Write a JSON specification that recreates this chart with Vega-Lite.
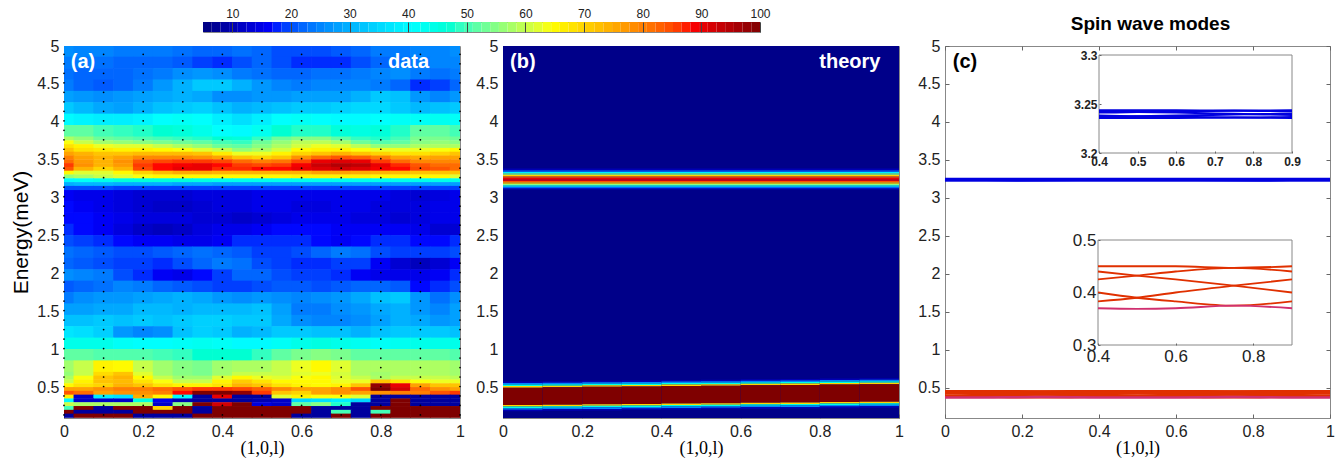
{"$schema":"https://vega.github.io/schema/vega-lite/v6.json","background":"white","padding":{"left":10,"top":6,"right":0,"bottom":0},"config":{"view":{"stroke":"#888"},"font":"Liberation Sans","axis":{"labelFont":"Liberation Sans","labelFontSize":16,"labelColor":"#222","labelFlush":false,"labelOverlap":false,"domain":false,"tickColor":"#666","tickSize":-4,"labelPadding":9,"grid":false,"titleFontWeight":"normal"}},
"datasets":{
"blue":[{"l":0,"e":3.2436,"m":"b1"},{"l":0.1,"e":3.2436,"m":"b1"},{"l":0.25,"e":3.2433,"m":"b1"},{"l":0.4,"e":3.2436,"m":"b1"},{"l":0.5,"e":3.2437,"m":"b1"},{"l":0.6,"e":3.2436,"m":"b1"},{"l":0.75,"e":3.2433,"m":"b1"},{"l":0.9,"e":3.2436,"m":"b1"},{"l":1,"e":3.2436,"m":"b1"},
{"l":0,"e":3.2418,"m":"b2"},{"l":0.1,"e":3.2425,"m":"b2"},{"l":0.25,"e":3.2431,"m":"b2"},{"l":0.4,"e":3.2425,"m":"b2"},{"l":0.5,"e":3.2418,"m":"b2"},{"l":0.6,"e":3.2412,"m":"b2"},{"l":0.75,"e":3.24,"m":"b2"},{"l":0.9,"e":3.2388,"m":"b2"},{"l":1,"e":3.2378,"m":"b2"},
{"l":0,"e":3.2378,"m":"b3"},{"l":0.1,"e":3.2388,"m":"b3"},{"l":0.25,"e":3.24,"m":"b3"},{"l":0.4,"e":3.2412,"m":"b3"},{"l":0.5,"e":3.2418,"m":"b3"},{"l":0.6,"e":3.2425,"m":"b3"},{"l":0.75,"e":3.2431,"m":"b3"},{"l":0.9,"e":3.2425,"m":"b3"},{"l":1,"e":3.2418,"m":"b3"},
{"l":0,"e":3.241,"m":"b4"},{"l":0.1,"e":3.2402,"m":"b4"},{"l":0.25,"e":3.2392,"m":"b4"},{"l":0.4,"e":3.2382,"m":"b4"},{"l":0.5,"e":3.2375,"m":"b4"},{"l":0.6,"e":3.237,"m":"b4"},{"l":0.75,"e":3.2362,"m":"b4"},{"l":0.9,"e":3.2368,"m":"b4"},{"l":1,"e":3.2375,"m":"b4"},
{"l":0,"e":3.2375,"m":"b5"},{"l":0.1,"e":3.2368,"m":"b5"},{"l":0.25,"e":3.2362,"m":"b5"},{"l":0.4,"e":3.237,"m":"b5"},{"l":0.5,"e":3.2375,"m":"b5"},{"l":0.6,"e":3.2382,"m":"b5"},{"l":0.75,"e":3.2392,"m":"b5"},{"l":0.9,"e":3.2402,"m":"b5"},{"l":1,"e":3.241,"m":"b5"},
{"l":0,"e":3.2358,"m":"b6"},{"l":0.1,"e":3.2358,"m":"b6"},{"l":0.25,"e":3.2362,"m":"b6"},{"l":0.4,"e":3.2358,"m":"b6"},{"l":0.5,"e":3.2357,"m":"b6"},{"l":0.6,"e":3.2358,"m":"b6"},{"l":0.75,"e":3.2362,"m":"b6"},{"l":0.9,"e":3.2358,"m":"b6"},{"l":1,"e":3.2358,"m":"b6"}],
"red":[{"l":0,"e":0.45,"m":"r1"},{"l":0.1,"e":0.45,"m":"r1"},{"l":0.25,"e":0.447,"m":"r1"},{"l":0.4,"e":0.45,"m":"r1"},{"l":0.5,"e":0.45,"m":"r1"},{"l":0.6,"e":0.45,"m":"r1"},{"l":0.75,"e":0.447,"m":"r1"},{"l":0.9,"e":0.45,"m":"r1"},{"l":1,"e":0.45,"m":"r1"},
{"l":0,"e":0.432,"m":"r2"},{"l":0.1,"e":0.44,"m":"r2"},{"l":0.25,"e":0.447,"m":"r2"},{"l":0.4,"e":0.44,"m":"r2"},{"l":0.5,"e":0.432,"m":"r2"},{"l":0.6,"e":0.425,"m":"r2"},{"l":0.75,"e":0.413,"m":"r2"},{"l":0.9,"e":0.4,"m":"r2"},{"l":1,"e":0.39,"m":"r2"},
{"l":0,"e":0.39,"m":"r3"},{"l":0.1,"e":0.4,"m":"r3"},{"l":0.25,"e":0.413,"m":"r3"},{"l":0.4,"e":0.425,"m":"r3"},{"l":0.5,"e":0.432,"m":"r3"},{"l":0.6,"e":0.44,"m":"r3"},{"l":0.75,"e":0.447,"m":"r3"},{"l":0.9,"e":0.44,"m":"r3"},{"l":1,"e":0.432,"m":"r3"},
{"l":0,"e":0.432,"m":"r4"},{"l":0.1,"e":0.425,"m":"r4"},{"l":0.25,"e":0.413,"m":"r4"},{"l":0.4,"e":0.4,"m":"r4"},{"l":0.5,"e":0.39,"m":"r4"},{"l":0.6,"e":0.383,"m":"r4"},{"l":0.75,"e":0.375,"m":"r4"},{"l":0.9,"e":0.383,"m":"r4"},{"l":1,"e":0.39,"m":"r4"},
{"l":0,"e":0.39,"m":"r5"},{"l":0.1,"e":0.383,"m":"r5"},{"l":0.25,"e":0.375,"m":"r5"},{"l":0.4,"e":0.383,"m":"r5"},{"l":0.5,"e":0.39,"m":"r5"},{"l":0.6,"e":0.4,"m":"r5"},{"l":0.75,"e":0.413,"m":"r5"},{"l":0.9,"e":0.425,"m":"r5"},{"l":1,"e":0.432,"m":"r5"}],
"low":[{"l":0,"e":0.369},{"l":0.1,"e":0.37},{"l":0.25,"e":0.375},{"l":0.4,"e":0.37},{"l":0.5,"e":0.369},{"l":0.6,"e":0.37},{"l":0.75,"e":0.375},{"l":0.9,"e":0.37},{"l":1,"e":0.369}],
"bar":[{"a":5,"b":6.48,"v":5.7},{"a":6.48,"b":7.97,"v":7.2},{"a":7.97,"b":9.45,"v":8.7},{"a":9.45,"b":10.94,"v":10.2},{"a":10.94,"b":12.42,"v":11.7},{"a":12.42,"b":13.91,"v":13.2},{"a":13.91,"b":15.39,"v":14.6},{"a":15.39,"b":16.88,"v":16.1},{"a":16.88,"b":18.36,"v":17.6},{"a":18.36,"b":19.84,"v":19.1},{"a":19.84,"b":21.33,"v":20.6},{"a":21.33,"b":22.81,"v":22.1},{"a":22.81,"b":24.3,"v":23.6},{"a":24.3,"b":25.78,"v":25},{"a":25.78,"b":27.27,"v":26.5},{"a":27.27,"b":28.75,"v":28},{"a":28.75,"b":30.23,"v":29.5},{"a":30.23,"b":31.72,"v":31},{"a":31.72,"b":33.2,"v":32.5},{"a":33.2,"b":34.69,"v":33.9},{"a":34.69,"b":36.17,"v":35.4},{"a":36.17,"b":37.66,"v":36.9},{"a":37.66,"b":39.14,"v":38.4},{"a":39.14,"b":40.63,"v":39.9},{"a":40.63,"b":42.11,"v":41.4},{"a":42.11,"b":43.59,"v":42.9},{"a":43.59,"b":45.08,"v":44.3},{"a":45.08,"b":46.56,"v":45.8},{"a":46.56,"b":48.05,"v":47.3},{"a":48.05,"b":49.53,"v":48.8},{"a":49.53,"b":51.02,"v":50.3},{"a":51.02,"b":52.5,"v":51.8},{"a":52.5,"b":53.98,"v":53.2},{"a":53.98,"b":55.47,"v":54.7},{"a":55.47,"b":56.95,"v":56.2},{"a":56.95,"b":58.44,"v":57.7},{"a":58.44,"b":59.92,"v":59.2},{"a":59.92,"b":61.41,"v":60.7},{"a":61.41,"b":62.89,"v":62.1},{"a":62.89,"b":64.38,"v":63.6},{"a":64.38,"b":65.86,"v":65.1},{"a":65.86,"b":67.34,"v":66.6},{"a":67.34,"b":68.83,"v":68.1},{"a":68.83,"b":70.31,"v":69.6},{"a":70.31,"b":71.8,"v":71},{"a":71.8,"b":73.28,"v":72.5},{"a":73.28,"b":74.77,"v":74},{"a":74.77,"b":76.25,"v":75.5},{"a":76.25,"b":77.73,"v":77},{"a":77.73,"b":79.22,"v":78.5},{"a":79.22,"b":80.7,"v":80},{"a":80.7,"b":82.19,"v":81.4},{"a":82.19,"b":83.67,"v":82.9},{"a":83.67,"b":85.16,"v":84.4},{"a":85.16,"b":86.64,"v":85.9},{"a":86.64,"b":88.13,"v":87.4},{"a":88.13,"b":89.61,"v":88.9},{"a":89.61,"b":91.09,"v":90.3},{"a":91.09,"b":92.58,"v":91.8},{"a":92.58,"b":94.06,"v":93.3},{"a":94.06,"b":95.55,"v":94.8},{"a":95.55,"b":97.03,"v":96.3},{"a":97.03,"b":98.52,"v":97.8},{"a":98.52,"b":100,"v":99.3}],
"theory":[{"l":0,"r":1,"e":0.1,"f":5,"v":6},
{"l":0,"r":1,"e":3.105,"f":3.125,"v":10},{"l":0,"r":1,"e":3.125,"f":3.145,"v":22},{"l":0,"r":1,"e":3.145,"f":3.165,"v":38},{"l":0,"r":1,"e":3.165,"f":3.185,"v":55},{"l":0,"r":1,"e":3.185,"f":3.205,"v":70},{"l":0,"r":1,"e":3.205,"f":3.225,"v":84},{"l":0,"r":1,"e":3.225,"f":3.245,"v":90},{"l":0,"r":1,"e":3.245,"f":3.265,"v":90},{"l":0,"r":1,"e":3.265,"f":3.285,"v":84},{"l":0,"r":1,"e":3.285,"f":3.305,"v":70},{"l":0,"r":1,"e":3.305,"f":3.325,"v":55},{"l":0,"r":1,"e":3.325,"f":3.345,"v":38},{"l":0,"r":1,"e":3.345,"f":3.365,"v":22},{"l":0,"r":1,"e":3.365,"f":3.385,"v":10},
{"l":0,"r":0.1,"e":0.56,"f":0.58,"v":10},{"l":0,"r":0.1,"e":0.54,"f":0.56,"v":25},{"l":0,"r":0.1,"e":0.52,"f":0.54,"v":45},{"l":0,"r":0.1,"e":0.5,"f":0.52,"v":70},{"l":0,"r":0.1,"e":0.27,"f":0.5,"v":100},{"l":0,"r":0.1,"e":0.25,"f":0.27,"v":70},{"l":0,"r":0.1,"e":0.23,"f":0.25,"v":45},{"l":0,"r":0.1,"e":0.21,"f":0.23,"v":25},{"l":0,"r":0.1,"e":0.19,"f":0.21,"v":10},
{"l":0.1,"r":0.2,"e":0.565,"f":0.585,"v":10},{"l":0.1,"r":0.2,"e":0.545,"f":0.565,"v":25},{"l":0.1,"r":0.2,"e":0.525,"f":0.545,"v":45},{"l":0.1,"r":0.2,"e":0.505,"f":0.525,"v":70},{"l":0.1,"r":0.2,"e":0.275,"f":0.505,"v":100},{"l":0.1,"r":0.2,"e":0.255,"f":0.275,"v":70},{"l":0.1,"r":0.2,"e":0.235,"f":0.255,"v":45},{"l":0.1,"r":0.2,"e":0.215,"f":0.235,"v":25},{"l":0.1,"r":0.2,"e":0.195,"f":0.215,"v":10},
{"l":0.2,"r":0.3,"e":0.57,"f":0.59,"v":10},{"l":0.2,"r":0.3,"e":0.55,"f":0.57,"v":25},{"l":0.2,"r":0.3,"e":0.53,"f":0.55,"v":45},{"l":0.2,"r":0.3,"e":0.51,"f":0.53,"v":70},{"l":0.2,"r":0.3,"e":0.28,"f":0.51,"v":100},{"l":0.2,"r":0.3,"e":0.26,"f":0.28,"v":70},{"l":0.2,"r":0.3,"e":0.24,"f":0.26,"v":45},{"l":0.2,"r":0.3,"e":0.22,"f":0.24,"v":25},{"l":0.2,"r":0.3,"e":0.2,"f":0.22,"v":10},
{"l":0.3,"r":0.4,"e":0.575,"f":0.595,"v":10},{"l":0.3,"r":0.4,"e":0.555,"f":0.575,"v":25},{"l":0.3,"r":0.4,"e":0.535,"f":0.555,"v":45},{"l":0.3,"r":0.4,"e":0.515,"f":0.535,"v":70},{"l":0.3,"r":0.4,"e":0.285,"f":0.515,"v":100},{"l":0.3,"r":0.4,"e":0.265,"f":0.285,"v":70},{"l":0.3,"r":0.4,"e":0.245,"f":0.265,"v":45},{"l":0.3,"r":0.4,"e":0.225,"f":0.245,"v":25},{"l":0.3,"r":0.4,"e":0.205,"f":0.225,"v":10},
{"l":0.4,"r":0.5,"e":0.58,"f":0.6,"v":10},{"l":0.4,"r":0.5,"e":0.56,"f":0.58,"v":25},{"l":0.4,"r":0.5,"e":0.54,"f":0.56,"v":45},{"l":0.4,"r":0.5,"e":0.52,"f":0.54,"v":70},{"l":0.4,"r":0.5,"e":0.29,"f":0.52,"v":100},{"l":0.4,"r":0.5,"e":0.27,"f":0.29,"v":70},{"l":0.4,"r":0.5,"e":0.25,"f":0.27,"v":45},{"l":0.4,"r":0.5,"e":0.23,"f":0.25,"v":25},{"l":0.4,"r":0.5,"e":0.21,"f":0.23,"v":10},
{"l":0.5,"r":0.6,"e":0.585,"f":0.605,"v":10},{"l":0.5,"r":0.6,"e":0.565,"f":0.585,"v":25},{"l":0.5,"r":0.6,"e":0.545,"f":0.565,"v":45},{"l":0.5,"r":0.6,"e":0.525,"f":0.545,"v":70},{"l":0.5,"r":0.6,"e":0.295,"f":0.525,"v":100},{"l":0.5,"r":0.6,"e":0.275,"f":0.295,"v":70},{"l":0.5,"r":0.6,"e":0.255,"f":0.275,"v":45},{"l":0.5,"r":0.6,"e":0.235,"f":0.255,"v":25},{"l":0.5,"r":0.6,"e":0.215,"f":0.235,"v":10},
{"l":0.6,"r":0.7,"e":0.59,"f":0.61,"v":10},{"l":0.6,"r":0.7,"e":0.57,"f":0.59,"v":25},{"l":0.6,"r":0.7,"e":0.55,"f":0.57,"v":45},{"l":0.6,"r":0.7,"e":0.53,"f":0.55,"v":70},{"l":0.6,"r":0.7,"e":0.3,"f":0.53,"v":100},{"l":0.6,"r":0.7,"e":0.28,"f":0.3,"v":70},{"l":0.6,"r":0.7,"e":0.26,"f":0.28,"v":45},{"l":0.6,"r":0.7,"e":0.24,"f":0.26,"v":25},{"l":0.6,"r":0.7,"e":0.22,"f":0.24,"v":10},
{"l":0.7,"r":0.8,"e":0.595,"f":0.615,"v":10},{"l":0.7,"r":0.8,"e":0.575,"f":0.595,"v":25},{"l":0.7,"r":0.8,"e":0.555,"f":0.575,"v":45},{"l":0.7,"r":0.8,"e":0.535,"f":0.555,"v":70},{"l":0.7,"r":0.8,"e":0.305,"f":0.535,"v":100},{"l":0.7,"r":0.8,"e":0.285,"f":0.305,"v":70},{"l":0.7,"r":0.8,"e":0.265,"f":0.285,"v":45},{"l":0.7,"r":0.8,"e":0.245,"f":0.265,"v":25},{"l":0.7,"r":0.8,"e":0.225,"f":0.245,"v":10},
{"l":0.8,"r":0.9,"e":0.6,"f":0.62,"v":10},{"l":0.8,"r":0.9,"e":0.58,"f":0.6,"v":25},{"l":0.8,"r":0.9,"e":0.56,"f":0.58,"v":45},{"l":0.8,"r":0.9,"e":0.54,"f":0.56,"v":70},{"l":0.8,"r":0.9,"e":0.31,"f":0.54,"v":100},{"l":0.8,"r":0.9,"e":0.29,"f":0.31,"v":70},{"l":0.8,"r":0.9,"e":0.27,"f":0.29,"v":45},{"l":0.8,"r":0.9,"e":0.25,"f":0.27,"v":25},{"l":0.8,"r":0.9,"e":0.23,"f":0.25,"v":10},
{"l":0.9,"r":1,"e":0.605,"f":0.625,"v":10},{"l":0.9,"r":1,"e":0.585,"f":0.605,"v":25},{"l":0.9,"r":1,"e":0.565,"f":0.585,"v":45},{"l":0.9,"r":1,"e":0.545,"f":0.565,"v":70},{"l":0.9,"r":1,"e":0.315,"f":0.545,"v":100},{"l":0.9,"r":1,"e":0.295,"f":0.315,"v":70},{"l":0.9,"r":1,"e":0.275,"f":0.295,"v":45},{"l":0.9,"r":1,"e":0.255,"f":0.275,"v":25},{"l":0.9,"r":1,"e":0.235,"f":0.255,"v":10}],
"coarse":[
{"l":0,"e":4.93,"v":26},{"l":0.05,"e":4.93,"v":25},{"l":0.1,"e":4.93,"v":25},{"l":0.15,"e":4.93,"v":24},{"l":0.2,"e":4.93,"v":24},{"l":0.25,"e":4.93,"v":24},{"l":0.3,"e":4.93,"v":23},{"l":0.35,"e":4.93,"v":22},{"l":0.4,"e":4.93,"v":22},{"l":0.45,"e":4.93,"v":23},{"l":0.5,"e":4.93,"v":22},{"l":0.55,"e":4.93,"v":20},{"l":0.6,"e":4.93,"v":20},{"l":0.65,"e":4.93,"v":20},{"l":0.7,"e":4.93,"v":21},{"l":0.75,"e":4.93,"v":22},{"l":0.8,"e":4.93,"v":24},{"l":0.85,"e":4.93,"v":24},{"l":0.9,"e":4.93,"v":25},{"l":0.95,"e":4.93,"v":25},{"l":1,"e":4.93,"v":26},
{"l":0,"e":4.78,"v":24},{"l":0.05,"e":4.78,"v":24},{"l":0.1,"e":4.78,"v":23},{"l":0.15,"e":4.78,"v":22},{"l":0.2,"e":4.78,"v":22},{"l":0.25,"e":4.78,"v":22},{"l":0.3,"e":4.78,"v":21},{"l":0.35,"e":4.78,"v":19},{"l":0.4,"e":4.78,"v":18},{"l":0.45,"e":4.78,"v":20},{"l":0.5,"e":4.78,"v":22},{"l":0.55,"e":4.78,"v":20},{"l":0.6,"e":4.78,"v":18},{"l":0.65,"e":4.78,"v":18},{"l":0.7,"e":4.78,"v":18},{"l":0.75,"e":4.78,"v":20},{"l":0.8,"e":4.78,"v":22},{"l":0.85,"e":4.78,"v":23},{"l":0.9,"e":4.78,"v":24},{"l":0.95,"e":4.78,"v":25},{"l":1,"e":4.78,"v":25},
{"l":0,"e":4.63,"v":23},{"l":0.05,"e":4.63,"v":22},{"l":0.1,"e":4.63,"v":22},{"l":0.15,"e":4.63,"v":22},{"l":0.2,"e":4.63,"v":23},{"l":0.25,"e":4.63,"v":24},{"l":0.3,"e":4.63,"v":26},{"l":0.35,"e":4.63,"v":27},{"l":0.4,"e":4.63,"v":26},{"l":0.45,"e":4.63,"v":24},{"l":0.5,"e":4.63,"v":23},{"l":0.55,"e":4.63,"v":22},{"l":0.6,"e":4.63,"v":22},{"l":0.65,"e":4.63,"v":23},{"l":0.7,"e":4.63,"v":23},{"l":0.75,"e":4.63,"v":24},{"l":0.8,"e":4.63,"v":25},{"l":0.85,"e":4.63,"v":26},{"l":0.9,"e":4.63,"v":24},{"l":0.95,"e":4.63,"v":23},{"l":1,"e":4.63,"v":24},
{"l":0,"e":4.48,"v":24},{"l":0.05,"e":4.48,"v":22},{"l":0.1,"e":4.48,"v":21},{"l":0.15,"e":4.48,"v":22},{"l":0.2,"e":4.48,"v":24},{"l":0.25,"e":4.48,"v":27},{"l":0.3,"e":4.48,"v":30},{"l":0.35,"e":4.48,"v":33},{"l":0.4,"e":4.48,"v":33},{"l":0.45,"e":4.48,"v":30},{"l":0.5,"e":4.48,"v":27},{"l":0.55,"e":4.48,"v":25},{"l":0.6,"e":4.48,"v":24},{"l":0.65,"e":4.48,"v":25},{"l":0.7,"e":4.48,"v":25},{"l":0.75,"e":4.48,"v":25},{"l":0.8,"e":4.48,"v":24},{"l":0.85,"e":4.48,"v":22},{"l":0.9,"e":4.48,"v":18},{"l":0.95,"e":4.48,"v":19},{"l":1,"e":4.48,"v":22},
{"l":0,"e":4.33,"v":28},{"l":0.05,"e":4.33,"v":27},{"l":0.1,"e":4.33,"v":26},{"l":0.15,"e":4.33,"v":27},{"l":0.2,"e":4.33,"v":28},{"l":0.25,"e":4.33,"v":29},{"l":0.3,"e":4.33,"v":30},{"l":0.35,"e":4.33,"v":29},{"l":0.4,"e":4.33,"v":26},{"l":0.45,"e":4.33,"v":26},{"l":0.5,"e":4.33,"v":27},{"l":0.55,"e":4.33,"v":27},{"l":0.6,"e":4.33,"v":28},{"l":0.65,"e":4.33,"v":28},{"l":0.7,"e":4.33,"v":28},{"l":0.75,"e":4.33,"v":30},{"l":0.8,"e":4.33,"v":33},{"l":0.85,"e":4.33,"v":32},{"l":0.9,"e":4.33,"v":27},{"l":0.95,"e":4.33,"v":25},{"l":1,"e":4.33,"v":27},
{"l":0,"e":4.18,"v":33},{"l":0.05,"e":4.18,"v":31},{"l":0.1,"e":4.18,"v":29},{"l":0.15,"e":4.18,"v":28},{"l":0.2,"e":4.18,"v":30},{"l":0.25,"e":4.18,"v":32},{"l":0.3,"e":4.18,"v":33},{"l":0.35,"e":4.18,"v":34},{"l":0.4,"e":4.18,"v":32},{"l":0.45,"e":4.18,"v":30},{"l":0.5,"e":4.18,"v":31},{"l":0.55,"e":4.18,"v":32},{"l":0.6,"e":4.18,"v":33},{"l":0.65,"e":4.18,"v":33},{"l":0.7,"e":4.18,"v":34},{"l":0.75,"e":4.18,"v":35},{"l":0.8,"e":4.18,"v":35},{"l":0.85,"e":4.18,"v":33},{"l":0.9,"e":4.18,"v":31},{"l":0.95,"e":4.18,"v":32},{"l":1,"e":4.18,"v":33},
{"l":0,"e":4.03,"v":40},{"l":0.05,"e":4.03,"v":39},{"l":0.1,"e":4.03,"v":38},{"l":0.15,"e":4.03,"v":38},{"l":0.2,"e":4.03,"v":39},{"l":0.25,"e":4.03,"v":41},{"l":0.3,"e":4.03,"v":42},{"l":0.35,"e":4.03,"v":41},{"l":0.4,"e":4.03,"v":38},{"l":0.45,"e":4.03,"v":36},{"l":0.5,"e":4.03,"v":38},{"l":0.55,"e":4.03,"v":41},{"l":0.6,"e":4.03,"v":42},{"l":0.65,"e":4.03,"v":41},{"l":0.7,"e":4.03,"v":40},{"l":0.75,"e":4.03,"v":40},{"l":0.8,"e":4.03,"v":41},{"l":0.85,"e":4.03,"v":42},{"l":0.9,"e":4.03,"v":42},{"l":0.95,"e":4.03,"v":43},{"l":1,"e":4.03,"v":42},
{"l":0,"e":3.88,"v":52},{"l":0.05,"e":3.88,"v":52},{"l":0.1,"e":3.88,"v":50},{"l":0.15,"e":3.88,"v":49},{"l":0.2,"e":3.88,"v":48},{"l":0.25,"e":3.88,"v":47},{"l":0.3,"e":3.88,"v":46},{"l":0.35,"e":3.88,"v":44},{"l":0.4,"e":3.88,"v":41},{"l":0.45,"e":3.88,"v":40},{"l":0.5,"e":3.88,"v":43},{"l":0.55,"e":3.88,"v":47},{"l":0.6,"e":3.88,"v":48},{"l":0.65,"e":3.88,"v":48},{"l":0.7,"e":3.88,"v":46},{"l":0.75,"e":3.88,"v":45},{"l":0.8,"e":3.88,"v":46},{"l":0.85,"e":3.88,"v":48},{"l":0.9,"e":3.88,"v":52},{"l":0.95,"e":3.88,"v":52},{"l":1,"e":3.88,"v":50},
{"l":0,"e":3.03,"v":16},{"l":0.05,"e":3.03,"v":15},{"l":0.1,"e":3.03,"v":15},{"l":0.15,"e":3.03,"v":14},{"l":0.2,"e":3.03,"v":13},{"l":0.25,"e":3.03,"v":13},{"l":0.3,"e":3.03,"v":13},{"l":0.35,"e":3.03,"v":14},{"l":0.4,"e":3.03,"v":14},{"l":0.45,"e":3.03,"v":14},{"l":0.5,"e":3.03,"v":15},{"l":0.55,"e":3.03,"v":15},{"l":0.6,"e":3.03,"v":15},{"l":0.65,"e":3.03,"v":15},{"l":0.7,"e":3.03,"v":15},{"l":0.75,"e":3.03,"v":15},{"l":0.8,"e":3.03,"v":15},{"l":0.85,"e":3.03,"v":14},{"l":0.9,"e":3.03,"v":13},{"l":0.95,"e":3.03,"v":14},{"l":1,"e":3.03,"v":15},
{"l":0,"e":2.88,"v":17},{"l":0.05,"e":2.88,"v":16},{"l":0.1,"e":2.88,"v":15},{"l":0.15,"e":2.88,"v":14},{"l":0.2,"e":2.88,"v":13},{"l":0.25,"e":2.88,"v":12},{"l":0.3,"e":2.88,"v":12},{"l":0.35,"e":2.88,"v":13},{"l":0.4,"e":2.88,"v":14},{"l":0.45,"e":2.88,"v":14},{"l":0.5,"e":2.88,"v":15},{"l":0.55,"e":2.88,"v":15},{"l":0.6,"e":2.88,"v":14},{"l":0.65,"e":2.88,"v":14},{"l":0.7,"e":2.88,"v":15},{"l":0.75,"e":2.88,"v":15},{"l":0.8,"e":2.88,"v":14},{"l":0.85,"e":2.88,"v":14},{"l":0.9,"e":2.88,"v":14},{"l":0.95,"e":2.88,"v":15},{"l":1,"e":2.88,"v":15},
{"l":0,"e":2.73,"v":17},{"l":0.05,"e":2.73,"v":17},{"l":0.1,"e":2.73,"v":16},{"l":0.15,"e":2.73,"v":15},{"l":0.2,"e":2.73,"v":14},{"l":0.25,"e":2.73,"v":14},{"l":0.3,"e":2.73,"v":14},{"l":0.35,"e":2.73,"v":13},{"l":0.4,"e":2.73,"v":13},{"l":0.45,"e":2.73,"v":12},{"l":0.5,"e":2.73,"v":13},{"l":0.55,"e":2.73,"v":14},{"l":0.6,"e":2.73,"v":15},{"l":0.65,"e":2.73,"v":15},{"l":0.7,"e":2.73,"v":15},{"l":0.75,"e":2.73,"v":14},{"l":0.8,"e":2.73,"v":14},{"l":0.85,"e":2.73,"v":13},{"l":0.9,"e":2.73,"v":14},{"l":0.95,"e":2.73,"v":15},{"l":1,"e":2.73,"v":15},
{"l":0,"e":2.58,"v":18},{"l":0.05,"e":2.58,"v":17},{"l":0.1,"e":2.58,"v":16},{"l":0.15,"e":2.58,"v":14},{"l":0.2,"e":2.58,"v":12},{"l":0.25,"e":2.58,"v":11},{"l":0.3,"e":2.58,"v":12},{"l":0.35,"e":2.58,"v":14},{"l":0.4,"e":2.58,"v":15},{"l":0.45,"e":2.58,"v":15},{"l":0.5,"e":2.58,"v":16},{"l":0.55,"e":2.58,"v":17},{"l":0.6,"e":2.58,"v":17},{"l":0.65,"e":2.58,"v":17},{"l":0.7,"e":2.58,"v":16},{"l":0.75,"e":2.58,"v":16},{"l":0.8,"e":2.58,"v":16},{"l":0.85,"e":2.58,"v":16},{"l":0.9,"e":2.58,"v":15},{"l":0.95,"e":2.58,"v":13},{"l":1,"e":2.58,"v":13},
{"l":0,"e":2.43,"v":20},{"l":0.05,"e":2.43,"v":19},{"l":0.1,"e":2.43,"v":18},{"l":0.15,"e":2.43,"v":17},{"l":0.2,"e":2.43,"v":16},{"l":0.25,"e":2.43,"v":16},{"l":0.3,"e":2.43,"v":15},{"l":0.35,"e":2.43,"v":15},{"l":0.4,"e":2.43,"v":16},{"l":0.45,"e":2.43,"v":18},{"l":0.5,"e":2.43,"v":18},{"l":0.55,"e":2.43,"v":18},{"l":0.6,"e":2.43,"v":18},{"l":0.65,"e":2.43,"v":17},{"l":0.7,"e":2.43,"v":16},{"l":0.75,"e":2.43,"v":17},{"l":0.8,"e":2.43,"v":18},{"l":0.85,"e":2.43,"v":18},{"l":0.9,"e":2.43,"v":17},{"l":0.95,"e":2.43,"v":17},{"l":1,"e":2.43,"v":18},
{"l":0,"e":2.28,"v":23},{"l":0.05,"e":2.28,"v":22},{"l":0.1,"e":2.28,"v":21},{"l":0.15,"e":2.28,"v":20},{"l":0.2,"e":2.28,"v":20},{"l":0.25,"e":2.28,"v":21},{"l":0.3,"e":2.28,"v":22},{"l":0.35,"e":2.28,"v":23},{"l":0.4,"e":2.28,"v":22},{"l":0.45,"e":2.28,"v":21},{"l":0.5,"e":2.28,"v":19},{"l":0.55,"e":2.28,"v":19},{"l":0.6,"e":2.28,"v":20},{"l":0.65,"e":2.28,"v":22},{"l":0.7,"e":2.28,"v":24},{"l":0.75,"e":2.28,"v":23},{"l":0.8,"e":2.28,"v":20},{"l":0.85,"e":2.28,"v":19},{"l":0.9,"e":2.28,"v":19},{"l":0.95,"e":2.28,"v":19},{"l":1,"e":2.28,"v":20},
{"l":0,"e":2.13,"v":22},{"l":0.05,"e":2.13,"v":21},{"l":0.1,"e":2.13,"v":20},{"l":0.15,"e":2.13,"v":19},{"l":0.2,"e":2.13,"v":19},{"l":0.25,"e":2.13,"v":18},{"l":0.3,"e":2.13,"v":20},{"l":0.35,"e":2.13,"v":22},{"l":0.4,"e":2.13,"v":24},{"l":0.45,"e":2.13,"v":23},{"l":0.5,"e":2.13,"v":20},{"l":0.55,"e":2.13,"v":19},{"l":0.6,"e":2.13,"v":18},{"l":0.65,"e":2.13,"v":18},{"l":0.7,"e":2.13,"v":19},{"l":0.75,"e":2.13,"v":19},{"l":0.8,"e":2.13,"v":16},{"l":0.85,"e":2.13,"v":13},{"l":0.9,"e":2.13,"v":11},{"l":0.95,"e":2.13,"v":13},{"l":1,"e":2.13,"v":16},
{"l":0,"e":1.98,"v":26},{"l":0.05,"e":1.98,"v":25},{"l":0.1,"e":1.98,"v":24},{"l":0.15,"e":1.98,"v":20},{"l":0.2,"e":1.98,"v":18},{"l":0.25,"e":1.98,"v":16},{"l":0.3,"e":1.98,"v":15},{"l":0.35,"e":1.98,"v":17},{"l":0.4,"e":1.98,"v":19},{"l":0.45,"e":1.98,"v":22},{"l":0.5,"e":1.98,"v":22},{"l":0.55,"e":1.98,"v":20},{"l":0.6,"e":1.98,"v":19},{"l":0.65,"e":1.98,"v":19},{"l":0.7,"e":1.98,"v":18},{"l":0.75,"e":1.98,"v":16},{"l":0.8,"e":1.98,"v":15},{"l":0.85,"e":1.98,"v":15},{"l":0.9,"e":1.98,"v":15},{"l":0.95,"e":1.98,"v":16},{"l":1,"e":1.98,"v":18},
{"l":0,"e":1.83,"v":21},{"l":0.05,"e":1.83,"v":22},{"l":0.1,"e":1.83,"v":23},{"l":0.15,"e":1.83,"v":25},{"l":0.2,"e":1.83,"v":24},{"l":0.25,"e":1.83,"v":22},{"l":0.3,"e":1.83,"v":21},{"l":0.35,"e":1.83,"v":20},{"l":0.4,"e":1.83,"v":19},{"l":0.45,"e":1.83,"v":19},{"l":0.5,"e":1.83,"v":20},{"l":0.55,"e":1.83,"v":21},{"l":0.6,"e":1.83,"v":21},{"l":0.65,"e":1.83,"v":20},{"l":0.7,"e":1.83,"v":21},{"l":0.75,"e":1.83,"v":22},{"l":0.8,"e":1.83,"v":22},{"l":0.85,"e":1.83,"v":21},{"l":0.9,"e":1.83,"v":17},{"l":0.95,"e":1.83,"v":18},{"l":1,"e":1.83,"v":20},
{"l":0,"e":1.68,"v":24},{"l":0.05,"e":1.68,"v":26},{"l":0.1,"e":1.68,"v":27},{"l":0.15,"e":1.68,"v":27},{"l":0.2,"e":1.68,"v":28},{"l":0.25,"e":1.68,"v":29},{"l":0.3,"e":1.68,"v":30},{"l":0.35,"e":1.68,"v":29},{"l":0.4,"e":1.68,"v":27},{"l":0.45,"e":1.68,"v":26},{"l":0.5,"e":1.68,"v":27},{"l":0.55,"e":1.68,"v":26},{"l":0.6,"e":1.68,"v":25},{"l":0.65,"e":1.68,"v":26},{"l":0.7,"e":1.68,"v":27},{"l":0.75,"e":1.68,"v":29},{"l":0.8,"e":1.68,"v":32},{"l":0.85,"e":1.68,"v":33},{"l":0.9,"e":1.68,"v":27},{"l":0.95,"e":1.68,"v":23},{"l":1,"e":1.68,"v":26},
{"l":0,"e":1.53,"v":28},{"l":0.05,"e":1.53,"v":28},{"l":0.1,"e":1.53,"v":29},{"l":0.15,"e":1.53,"v":29},{"l":0.2,"e":1.53,"v":31},{"l":0.25,"e":1.53,"v":31},{"l":0.3,"e":1.53,"v":30},{"l":0.35,"e":1.53,"v":31},{"l":0.4,"e":1.53,"v":31},{"l":0.45,"e":1.53,"v":31},{"l":0.5,"e":1.53,"v":32},{"l":0.55,"e":1.53,"v":28},{"l":0.6,"e":1.53,"v":24},{"l":0.65,"e":1.53,"v":24},{"l":0.7,"e":1.53,"v":26},{"l":0.75,"e":1.53,"v":27},{"l":0.8,"e":1.53,"v":29},{"l":0.85,"e":1.53,"v":30},{"l":0.9,"e":1.53,"v":27},{"l":0.95,"e":1.53,"v":25},{"l":1,"e":1.53,"v":28},
{"l":0,"e":1.38,"v":32},{"l":0.05,"e":1.38,"v":32},{"l":0.1,"e":1.38,"v":33},{"l":0.15,"e":1.38,"v":32},{"l":0.2,"e":1.38,"v":33},{"l":0.25,"e":1.38,"v":32},{"l":0.3,"e":1.38,"v":33},{"l":0.35,"e":1.38,"v":34},{"l":0.4,"e":1.38,"v":34},{"l":0.45,"e":1.38,"v":33},{"l":0.5,"e":1.38,"v":33},{"l":0.55,"e":1.38,"v":29},{"l":0.6,"e":1.38,"v":26},{"l":0.65,"e":1.38,"v":25},{"l":0.7,"e":1.38,"v":25},{"l":0.75,"e":1.38,"v":26},{"l":0.8,"e":1.38,"v":28},{"l":0.85,"e":1.38,"v":30},{"l":0.9,"e":1.38,"v":29},{"l":0.95,"e":1.38,"v":27},{"l":1,"e":1.38,"v":28},
{"l":0,"e":1.23,"v":37},{"l":0.05,"e":1.23,"v":36},{"l":0.1,"e":1.23,"v":34},{"l":0.15,"e":1.23,"v":27},{"l":0.2,"e":1.23,"v":25},{"l":0.25,"e":1.23,"v":26},{"l":0.3,"e":1.23,"v":32},{"l":0.35,"e":1.23,"v":34},{"l":0.4,"e":1.23,"v":33},{"l":0.45,"e":1.23,"v":30},{"l":0.5,"e":1.23,"v":31},{"l":0.55,"e":1.23,"v":33},{"l":0.6,"e":1.23,"v":33},{"l":0.65,"e":1.23,"v":32},{"l":0.7,"e":1.23,"v":32},{"l":0.75,"e":1.23,"v":30},{"l":0.8,"e":1.23,"v":32},{"l":0.85,"e":1.23,"v":33},{"l":0.9,"e":1.23,"v":33},{"l":0.95,"e":1.23,"v":33},{"l":1,"e":1.23,"v":32},
{"l":0,"e":1.08,"v":44},{"l":0.05,"e":1.08,"v":44},{"l":0.1,"e":1.08,"v":44},{"l":0.15,"e":1.08,"v":42},{"l":0.2,"e":1.08,"v":41},{"l":0.25,"e":1.08,"v":41},{"l":0.3,"e":1.08,"v":42},{"l":0.35,"e":1.08,"v":43},{"l":0.4,"e":1.08,"v":42},{"l":0.45,"e":1.08,"v":40},{"l":0.5,"e":1.08,"v":40},{"l":0.55,"e":1.08,"v":42},{"l":0.6,"e":1.08,"v":44},{"l":0.65,"e":1.08,"v":45},{"l":0.7,"e":1.08,"v":44},{"l":0.75,"e":1.08,"v":43},{"l":0.8,"e":1.08,"v":42},{"l":0.85,"e":1.08,"v":43},{"l":0.9,"e":1.08,"v":44},{"l":0.95,"e":1.08,"v":44},{"l":1,"e":1.08,"v":44},
{"l":0,"e":0.93,"v":52},{"l":0.05,"e":0.93,"v":52},{"l":0.1,"e":0.93,"v":51},{"l":0.15,"e":0.93,"v":51},{"l":0.2,"e":0.93,"v":51},{"l":0.25,"e":0.93,"v":50},{"l":0.3,"e":0.93,"v":49},{"l":0.35,"e":0.93,"v":47},{"l":0.4,"e":0.93,"v":47},{"l":0.45,"e":0.93,"v":47},{"l":0.5,"e":0.93,"v":49},{"l":0.55,"e":0.93,"v":52},{"l":0.6,"e":0.93,"v":54},{"l":0.65,"e":0.93,"v":55},{"l":0.7,"e":0.93,"v":54},{"l":0.75,"e":0.93,"v":52},{"l":0.8,"e":0.93,"v":52},{"l":0.85,"e":0.93,"v":52},{"l":0.9,"e":0.93,"v":52},{"l":0.95,"e":0.93,"v":52},{"l":1,"e":0.93,"v":51},
{"l":0,"e":0.78,"v":57},{"l":0.05,"e":0.78,"v":60},{"l":0.1,"e":0.78,"v":66},{"l":0.15,"e":0.78,"v":65},{"l":0.2,"e":0.78,"v":60},{"l":0.25,"e":0.78,"v":57},{"l":0.3,"e":0.78,"v":55},{"l":0.35,"e":0.78,"v":54},{"l":0.4,"e":0.78,"v":57},{"l":0.45,"e":0.78,"v":58},{"l":0.5,"e":0.78,"v":58},{"l":0.55,"e":0.78,"v":60},{"l":0.6,"e":0.78,"v":63},{"l":0.65,"e":0.78,"v":65},{"l":0.7,"e":0.78,"v":62},{"l":0.75,"e":0.78,"v":58},{"l":0.8,"e":0.78,"v":58},{"l":0.85,"e":0.78,"v":58},{"l":0.9,"e":0.78,"v":58},{"l":0.95,"e":0.78,"v":58},{"l":1,"e":0.78,"v":57}],
"fine":[
{"l":0,"e":3.78,"v":58},{"l":0.05,"e":3.78,"v":56},{"l":0.1,"e":3.78,"v":53},{"l":0.15,"e":3.78,"v":52},{"l":0.2,"e":3.78,"v":51},{"l":0.25,"e":3.78,"v":50},{"l":0.3,"e":3.78,"v":49},{"l":0.35,"e":3.78,"v":48},{"l":0.4,"e":3.78,"v":47},{"l":0.45,"e":3.78,"v":46},{"l":0.5,"e":3.78,"v":49},{"l":0.55,"e":3.78,"v":53},{"l":0.6,"e":3.78,"v":55},{"l":0.65,"e":3.78,"v":55},{"l":0.7,"e":3.78,"v":52},{"l":0.75,"e":3.78,"v":49},{"l":0.8,"e":3.78,"v":48},{"l":0.85,"e":3.78,"v":50},{"l":0.9,"e":3.78,"v":54},{"l":0.95,"e":3.78,"v":54},{"l":1,"e":3.78,"v":53},
{"l":0,"e":3.73,"v":64},{"l":0.05,"e":3.73,"v":60},{"l":0.1,"e":3.73,"v":57},{"l":0.15,"e":3.73,"v":56},{"l":0.2,"e":3.73,"v":55},{"l":0.25,"e":3.73,"v":54},{"l":0.3,"e":3.73,"v":53},{"l":0.35,"e":3.73,"v":52},{"l":0.4,"e":3.73,"v":50},{"l":0.45,"e":3.73,"v":49},{"l":0.5,"e":3.73,"v":53},{"l":0.55,"e":3.73,"v":56},{"l":0.6,"e":3.73,"v":59},{"l":0.65,"e":3.73,"v":59},{"l":0.7,"e":3.73,"v":57},{"l":0.75,"e":3.73,"v":53},{"l":0.8,"e":3.73,"v":51},{"l":0.85,"e":3.73,"v":52},{"l":0.9,"e":3.73,"v":55},{"l":0.95,"e":3.73,"v":56},{"l":1,"e":3.73,"v":55},
{"l":0,"e":3.68,"v":68},{"l":0.05,"e":3.68,"v":66},{"l":0.1,"e":3.68,"v":63},{"l":0.15,"e":3.68,"v":62},{"l":0.2,"e":3.68,"v":62},{"l":0.25,"e":3.68,"v":60},{"l":0.3,"e":3.68,"v":58},{"l":0.35,"e":3.68,"v":56},{"l":0.4,"e":3.68,"v":53},{"l":0.45,"e":3.68,"v":52},{"l":0.5,"e":3.68,"v":55},{"l":0.55,"e":3.68,"v":58},{"l":0.6,"e":3.68,"v":61},{"l":0.65,"e":3.68,"v":63},{"l":0.7,"e":3.68,"v":62},{"l":0.75,"e":3.68,"v":59},{"l":0.8,"e":3.68,"v":56},{"l":0.85,"e":3.68,"v":56},{"l":0.9,"e":3.68,"v":58},{"l":0.95,"e":3.68,"v":58},{"l":1,"e":3.68,"v":58},
{"l":0,"e":3.63,"v":72},{"l":0.05,"e":3.63,"v":68},{"l":0.1,"e":3.63,"v":67},{"l":0.15,"e":3.63,"v":66},{"l":0.2,"e":3.63,"v":66},{"l":0.25,"e":3.63,"v":65},{"l":0.3,"e":3.63,"v":64},{"l":0.35,"e":3.63,"v":62},{"l":0.4,"e":3.63,"v":60},{"l":0.45,"e":3.63,"v":56},{"l":0.5,"e":3.63,"v":58},{"l":0.55,"e":3.63,"v":61},{"l":0.6,"e":3.63,"v":65},{"l":0.65,"e":3.63,"v":66},{"l":0.7,"e":3.63,"v":66},{"l":0.75,"e":3.63,"v":64},{"l":0.8,"e":3.63,"v":63},{"l":0.85,"e":3.63,"v":63},{"l":0.9,"e":3.63,"v":63},{"l":0.95,"e":3.63,"v":64},{"l":1,"e":3.63,"v":65},
{"l":0,"e":3.58,"v":76},{"l":0.05,"e":3.58,"v":74},{"l":0.1,"e":3.58,"v":72},{"l":0.15,"e":3.58,"v":72},{"l":0.2,"e":3.58,"v":73},{"l":0.25,"e":3.58,"v":73},{"l":0.3,"e":3.58,"v":73},{"l":0.35,"e":3.58,"v":72},{"l":0.4,"e":3.58,"v":67},{"l":0.45,"e":3.58,"v":63},{"l":0.5,"e":3.58,"v":63},{"l":0.55,"e":3.58,"v":66},{"l":0.6,"e":3.58,"v":70},{"l":0.65,"e":3.58,"v":72},{"l":0.7,"e":3.58,"v":74},{"l":0.75,"e":3.58,"v":72},{"l":0.8,"e":3.58,"v":70},{"l":0.85,"e":3.58,"v":68},{"l":0.9,"e":3.58,"v":68},{"l":0.95,"e":3.58,"v":70},{"l":1,"e":3.58,"v":72},
{"l":0,"e":3.53,"v":80},{"l":0.05,"e":3.53,"v":76},{"l":0.1,"e":3.53,"v":74},{"l":0.15,"e":3.53,"v":76},{"l":0.2,"e":3.53,"v":79},{"l":0.25,"e":3.53,"v":79},{"l":0.3,"e":3.53,"v":79},{"l":0.35,"e":3.53,"v":78},{"l":0.4,"e":3.53,"v":76},{"l":0.45,"e":3.53,"v":72},{"l":0.5,"e":3.53,"v":70},{"l":0.55,"e":3.53,"v":72},{"l":0.6,"e":3.53,"v":78},{"l":0.65,"e":3.53,"v":82},{"l":0.7,"e":3.53,"v":84},{"l":0.75,"e":3.53,"v":83},{"l":0.8,"e":3.53,"v":80},{"l":0.85,"e":3.53,"v":76},{"l":0.9,"e":3.53,"v":75},{"l":0.95,"e":3.53,"v":76},{"l":1,"e":3.53,"v":76},
{"l":0,"e":3.48,"v":82},{"l":0.05,"e":3.48,"v":77},{"l":0.1,"e":3.48,"v":74},{"l":0.15,"e":3.48,"v":78},{"l":0.2,"e":3.48,"v":84},{"l":0.25,"e":3.48,"v":85},{"l":0.3,"e":3.48,"v":86},{"l":0.35,"e":3.48,"v":86},{"l":0.4,"e":3.48,"v":85},{"l":0.45,"e":3.48,"v":82},{"l":0.5,"e":3.48,"v":80},{"l":0.55,"e":3.48,"v":81},{"l":0.6,"e":3.48,"v":85},{"l":0.65,"e":3.48,"v":90},{"l":0.7,"e":3.48,"v":91},{"l":0.75,"e":3.48,"v":90},{"l":0.8,"e":3.48,"v":86},{"l":0.85,"e":3.48,"v":82},{"l":0.9,"e":3.48,"v":79},{"l":0.95,"e":3.48,"v":79},{"l":1,"e":3.48,"v":79},
{"l":0,"e":3.43,"v":86},{"l":0.05,"e":3.43,"v":78},{"l":0.1,"e":3.43,"v":74},{"l":0.15,"e":3.43,"v":77},{"l":0.2,"e":3.43,"v":86},{"l":0.25,"e":3.43,"v":88},{"l":0.3,"e":3.43,"v":89},{"l":0.35,"e":3.43,"v":90},{"l":0.4,"e":3.43,"v":88},{"l":0.45,"e":3.43,"v":86},{"l":0.5,"e":3.43,"v":85},{"l":0.55,"e":3.43,"v":86},{"l":0.6,"e":3.43,"v":89},{"l":0.65,"e":3.43,"v":93},{"l":0.7,"e":3.43,"v":95},{"l":0.75,"e":3.43,"v":94},{"l":0.8,"e":3.43,"v":90},{"l":0.85,"e":3.43,"v":87},{"l":0.9,"e":3.43,"v":84},{"l":0.95,"e":3.43,"v":82},{"l":1,"e":3.43,"v":82},
{"l":0,"e":3.38,"v":84},{"l":0.05,"e":3.38,"v":74},{"l":0.1,"e":3.38,"v":70},{"l":0.15,"e":3.38,"v":74},{"l":0.2,"e":3.38,"v":85},{"l":0.25,"e":3.38,"v":88},{"l":0.3,"e":3.38,"v":90},{"l":0.35,"e":3.38,"v":90},{"l":0.4,"e":3.38,"v":87},{"l":0.45,"e":3.38,"v":87},{"l":0.5,"e":3.38,"v":88},{"l":0.55,"e":3.38,"v":88},{"l":0.6,"e":3.38,"v":90},{"l":0.65,"e":3.38,"v":91},{"l":0.7,"e":3.38,"v":92},{"l":0.75,"e":3.38,"v":91},{"l":0.8,"e":3.38,"v":89},{"l":0.85,"e":3.38,"v":88},{"l":0.9,"e":3.38,"v":85},{"l":0.95,"e":3.38,"v":84},{"l":1,"e":3.38,"v":82},
{"l":0,"e":3.33,"v":65},{"l":0.05,"e":3.33,"v":62},{"l":0.1,"e":3.33,"v":62},{"l":0.15,"e":3.33,"v":65},{"l":0.2,"e":3.33,"v":70},{"l":0.25,"e":3.33,"v":73},{"l":0.3,"e":3.33,"v":75},{"l":0.35,"e":3.33,"v":75},{"l":0.4,"e":3.33,"v":74},{"l":0.45,"e":3.33,"v":74},{"l":0.5,"e":3.33,"v":74},{"l":0.55,"e":3.33,"v":74},{"l":0.6,"e":3.33,"v":74},{"l":0.65,"e":3.33,"v":76},{"l":0.7,"e":3.33,"v":76},{"l":0.75,"e":3.33,"v":75},{"l":0.8,"e":3.33,"v":74},{"l":0.85,"e":3.33,"v":73},{"l":0.9,"e":3.33,"v":72},{"l":0.95,"e":3.33,"v":72},{"l":1,"e":3.33,"v":72},
{"l":0,"e":3.28,"v":56},{"l":0.05,"e":3.28,"v":58},{"l":0.1,"e":3.28,"v":60},{"l":0.15,"e":3.28,"v":62},{"l":0.2,"e":3.28,"v":64},{"l":0.25,"e":3.28,"v":65},{"l":0.3,"e":3.28,"v":65},{"l":0.35,"e":3.28,"v":65},{"l":0.4,"e":3.28,"v":65},{"l":0.45,"e":3.28,"v":65},{"l":0.5,"e":3.28,"v":65},{"l":0.55,"e":3.28,"v":65},{"l":0.6,"e":3.28,"v":66},{"l":0.65,"e":3.28,"v":66},{"l":0.7,"e":3.28,"v":66},{"l":0.75,"e":3.28,"v":66},{"l":0.8,"e":3.28,"v":65},{"l":0.85,"e":3.28,"v":65},{"l":0.9,"e":3.28,"v":65},{"l":0.95,"e":3.28,"v":65},{"l":1,"e":3.28,"v":62},
{"l":0,"e":3.23,"v":40},{"l":0.05,"e":3.23,"v":42},{"l":0.1,"e":3.23,"v":44},{"l":0.15,"e":3.23,"v":46},{"l":0.2,"e":3.23,"v":46},{"l":0.25,"e":3.23,"v":46},{"l":0.3,"e":3.23,"v":46},{"l":0.35,"e":3.23,"v":45},{"l":0.4,"e":3.23,"v":44},{"l":0.45,"e":3.23,"v":44},{"l":0.5,"e":3.23,"v":44},{"l":0.55,"e":3.23,"v":44},{"l":0.6,"e":3.23,"v":44},{"l":0.65,"e":3.23,"v":44},{"l":0.7,"e":3.23,"v":44},{"l":0.75,"e":3.23,"v":44},{"l":0.8,"e":3.23,"v":44},{"l":0.85,"e":3.23,"v":44},{"l":0.9,"e":3.23,"v":44},{"l":0.95,"e":3.23,"v":44},{"l":1,"e":3.23,"v":44},
{"l":0,"e":3.18,"v":30},{"l":0.05,"e":3.18,"v":31},{"l":0.1,"e":3.18,"v":31},{"l":0.15,"e":3.18,"v":30},{"l":0.2,"e":3.18,"v":30},{"l":0.25,"e":3.18,"v":30},{"l":0.3,"e":3.18,"v":29},{"l":0.35,"e":3.18,"v":29},{"l":0.4,"e":3.18,"v":28},{"l":0.45,"e":3.18,"v":28},{"l":0.5,"e":3.18,"v":28},{"l":0.55,"e":3.18,"v":28},{"l":0.6,"e":3.18,"v":28},{"l":0.65,"e":3.18,"v":28},{"l":0.7,"e":3.18,"v":28},{"l":0.75,"e":3.18,"v":28},{"l":0.8,"e":3.18,"v":28},{"l":0.85,"e":3.18,"v":28},{"l":0.9,"e":3.18,"v":28},{"l":0.95,"e":3.18,"v":28},{"l":1,"e":3.18,"v":28},
{"l":0,"e":3.13,"v":20},{"l":0.05,"e":3.13,"v":20},{"l":0.1,"e":3.13,"v":20},{"l":0.15,"e":3.13,"v":19},{"l":0.2,"e":3.13,"v":19},{"l":0.25,"e":3.13,"v":19},{"l":0.3,"e":3.13,"v":19},{"l":0.35,"e":3.13,"v":19},{"l":0.4,"e":3.13,"v":19},{"l":0.45,"e":3.13,"v":19},{"l":0.5,"e":3.13,"v":19},{"l":0.55,"e":3.13,"v":19},{"l":0.6,"e":3.13,"v":19},{"l":0.65,"e":3.13,"v":19},{"l":0.7,"e":3.13,"v":19},{"l":0.75,"e":3.13,"v":19},{"l":0.8,"e":3.13,"v":19},{"l":0.85,"e":3.13,"v":19},{"l":0.9,"e":3.13,"v":19},{"l":0.95,"e":3.13,"v":19},{"l":1,"e":3.13,"v":19},
{"l":0,"e":0.68,"v":56},{"l":0.05,"e":0.68,"v":60},{"l":0.1,"e":0.68,"v":69},{"l":0.15,"e":0.68,"v":72},{"l":0.2,"e":0.68,"v":62},{"l":0.25,"e":0.68,"v":57},{"l":0.3,"e":0.68,"v":55},{"l":0.35,"e":0.68,"v":54},{"l":0.4,"e":0.68,"v":57},{"l":0.45,"e":0.68,"v":60},{"l":0.5,"e":0.68,"v":60},{"l":0.55,"e":0.68,"v":60},{"l":0.6,"e":0.68,"v":62},{"l":0.65,"e":0.68,"v":63},{"l":0.7,"e":0.68,"v":61},{"l":0.75,"e":0.68,"v":58},{"l":0.8,"e":0.68,"v":57},{"l":0.85,"e":0.68,"v":58},{"l":0.9,"e":0.68,"v":58},{"l":0.95,"e":0.68,"v":58},{"l":1,"e":0.68,"v":57},
{"l":0,"e":0.63,"v":58},{"l":0.05,"e":0.63,"v":64},{"l":0.1,"e":0.63,"v":72},{"l":0.15,"e":0.63,"v":74},{"l":0.2,"e":0.63,"v":65},{"l":0.25,"e":0.63,"v":60},{"l":0.3,"e":0.63,"v":57},{"l":0.35,"e":0.63,"v":57},{"l":0.4,"e":0.63,"v":62},{"l":0.45,"e":0.63,"v":65},{"l":0.5,"e":0.63,"v":63},{"l":0.55,"e":0.63,"v":62},{"l":0.6,"e":0.63,"v":64},{"l":0.65,"e":0.63,"v":65},{"l":0.7,"e":0.63,"v":62},{"l":0.75,"e":0.63,"v":60},{"l":0.8,"e":0.63,"v":58},{"l":0.85,"e":0.63,"v":60},{"l":0.9,"e":0.63,"v":60},{"l":0.95,"e":0.63,"v":60},{"l":1,"e":0.63,"v":59},
{"l":0,"e":0.58,"v":60},{"l":0.05,"e":0.58,"v":66},{"l":0.1,"e":0.58,"v":72},{"l":0.15,"e":0.58,"v":73},{"l":0.2,"e":0.58,"v":68},{"l":0.25,"e":0.58,"v":64},{"l":0.3,"e":0.58,"v":60},{"l":0.35,"e":0.58,"v":60},{"l":0.4,"e":0.58,"v":66},{"l":0.45,"e":0.58,"v":71},{"l":0.5,"e":0.58,"v":68},{"l":0.55,"e":0.58,"v":65},{"l":0.6,"e":0.58,"v":65},{"l":0.65,"e":0.58,"v":65},{"l":0.7,"e":0.58,"v":63},{"l":0.75,"e":0.58,"v":63},{"l":0.8,"e":0.58,"v":72},{"l":0.85,"e":0.58,"v":68},{"l":0.9,"e":0.58,"v":64},{"l":0.95,"e":0.58,"v":63},{"l":1,"e":0.58,"v":63},
{"l":0,"e":0.53,"v":65},{"l":0.05,"e":0.53,"v":68},{"l":0.1,"e":0.53,"v":70},{"l":0.15,"e":0.53,"v":74},{"l":0.2,"e":0.53,"v":72},{"l":0.25,"e":0.53,"v":68},{"l":0.3,"e":0.53,"v":66},{"l":0.35,"e":0.53,"v":66},{"l":0.4,"e":0.53,"v":68},{"l":0.45,"e":0.53,"v":74},{"l":0.5,"e":0.53,"v":72},{"l":0.55,"e":0.53,"v":68},{"l":0.6,"e":0.53,"v":66},{"l":0.65,"e":0.53,"v":65},{"l":0.7,"e":0.53,"v":66},{"l":0.75,"e":0.53,"v":72},{"l":0.8,"e":0.53,"v":98},{"l":0.85,"e":0.53,"v":90},{"l":0.9,"e":0.53,"v":76},{"l":0.95,"e":0.53,"v":72},{"l":1,"e":0.53,"v":72},
{"l":0,"e":0.48,"v":76},{"l":0.05,"e":0.48,"v":76},{"l":0.1,"e":0.48,"v":78},{"l":0.15,"e":0.48,"v":80},{"l":0.2,"e":0.48,"v":80},{"l":0.25,"e":0.48,"v":82},{"l":0.3,"e":0.48,"v":84},{"l":0.35,"e":0.48,"v":86},{"l":0.4,"e":0.48,"v":86},{"l":0.45,"e":0.48,"v":85},{"l":0.5,"e":0.48,"v":83},{"l":0.55,"e":0.48,"v":79},{"l":0.6,"e":0.48,"v":76},{"l":0.65,"e":0.48,"v":76},{"l":0.7,"e":0.48,"v":78},{"l":0.75,"e":0.48,"v":84},{"l":0.8,"e":0.48,"v":100},{"l":0.85,"e":0.48,"v":92},{"l":0.9,"e":0.48,"v":82},{"l":0.95,"e":0.48,"v":78},{"l":1,"e":0.48,"v":76},
{"l":0,"e":0.43,"v":84},{"l":0.05,"e":0.43,"v":82},{"l":0.1,"e":0.43,"v":76},{"l":0.15,"e":0.43,"v":78},{"l":0.2,"e":0.43,"v":78},{"l":0.25,"e":0.43,"v":80},{"l":0.3,"e":0.43,"v":88},{"l":0.35,"e":0.43,"v":100},{"l":0.4,"e":0.43,"v":100},{"l":0.45,"e":0.43,"v":98},{"l":0.5,"e":0.43,"v":86},{"l":0.55,"e":0.43,"v":72},{"l":0.6,"e":0.43,"v":70},{"l":0.65,"e":0.43,"v":76},{"l":0.7,"e":0.43,"v":78},{"l":0.75,"e":0.43,"v":76},{"l":0.8,"e":0.43,"v":78},{"l":0.85,"e":0.43,"v":80},{"l":0.9,"e":0.43,"v":80},{"l":0.95,"e":0.43,"v":84},{"l":1,"e":0.43,"v":86},
{"l":0,"e":0.38,"v":66},{"l":0.05,"e":0.38,"v":12},{"l":0.1,"e":0.38,"v":38},{"l":0.15,"e":0.38,"v":36},{"l":0.2,"e":0.38,"v":75},{"l":0.25,"e":0.38,"v":65},{"l":0.3,"e":0.38,"v":40},{"l":0.35,"e":0.38,"v":8},{"l":0.4,"e":0.38,"v":90},{"l":0.45,"e":0.38,"v":8},{"l":0.5,"e":0.38,"v":8},{"l":0.55,"e":0.38,"v":62},{"l":0.6,"e":0.38,"v":66},{"l":0.65,"e":0.38,"v":64},{"l":0.7,"e":0.38,"v":64},{"l":0.75,"e":0.38,"v":62},{"l":0.8,"e":0.38,"v":8},{"l":0.85,"e":0.38,"v":8},{"l":0.9,"e":0.38,"v":8},{"l":0.95,"e":0.38,"v":8},{"l":1,"e":0.38,"v":8},
{"l":0,"e":0.33,"v":40},{"l":0.05,"e":0.33,"v":12},{"l":0.1,"e":0.33,"v":12},{"l":0.15,"e":0.33,"v":12},{"l":0.2,"e":0.33,"v":45},{"l":0.25,"e":0.33,"v":15},{"l":0.3,"e":0.33,"v":10},{"l":0.35,"e":0.33,"v":8},{"l":0.4,"e":0.33,"v":8},{"l":0.45,"e":0.33,"v":8},{"l":0.5,"e":0.33,"v":10},{"l":0.55,"e":0.33,"v":12},{"l":0.6,"e":0.33,"v":35},{"l":0.65,"e":0.33,"v":36},{"l":0.7,"e":0.33,"v":38},{"l":0.75,"e":0.33,"v":35},{"l":0.8,"e":0.33,"v":8},{"l":0.85,"e":0.33,"v":100},{"l":0.9,"e":0.33,"v":8},{"l":0.95,"e":0.33,"v":8},{"l":1,"e":0.33,"v":8},
{"l":0,"e":0.28,"v":60},{"l":0.05,"e":0.28,"v":58},{"l":0.1,"e":0.28,"v":58},{"l":0.15,"e":0.28,"v":58},{"l":0.2,"e":0.28,"v":58},{"l":0.25,"e":0.28,"v":12},{"l":0.3,"e":0.28,"v":55},{"l":0.35,"e":0.28,"v":100},{"l":0.4,"e":0.28,"v":92},{"l":0.45,"e":0.28,"v":100},{"l":0.5,"e":0.28,"v":14},{"l":0.55,"e":0.28,"v":12},{"l":0.6,"e":0.28,"v":52},{"l":0.65,"e":0.28,"v":55},{"l":0.7,"e":0.28,"v":48},{"l":0.75,"e":0.28,"v":8},{"l":0.8,"e":0.28,"v":8},{"l":0.85,"e":0.28,"v":100},{"l":0.9,"e":0.28,"v":8},{"l":0.95,"e":0.28,"v":8},{"l":1,"e":0.28,"v":8},
{"l":0,"e":0.23,"v":50},{"l":0.05,"e":0.23,"v":100},{"l":0.1,"e":0.23,"v":8},{"l":0.15,"e":0.23,"v":100},{"l":0.2,"e":0.23,"v":100},{"l":0.25,"e":0.23,"v":70},{"l":0.3,"e":0.23,"v":100},{"l":0.35,"e":0.23,"v":8},{"l":0.4,"e":0.23,"v":100},{"l":0.45,"e":0.23,"v":100},{"l":0.5,"e":0.23,"v":100},{"l":0.55,"e":0.23,"v":100},{"l":0.6,"e":0.23,"v":100},{"l":0.65,"e":0.23,"v":8},{"l":0.7,"e":0.23,"v":8},{"l":0.75,"e":0.23,"v":8},{"l":0.8,"e":0.23,"v":100},{"l":0.85,"e":0.23,"v":100},{"l":0.9,"e":0.23,"v":100},{"l":0.95,"e":0.23,"v":100},{"l":1,"e":0.23,"v":100},
{"l":0,"e":0.18,"v":100},{"l":0.05,"e":0.18,"v":8},{"l":0.1,"e":0.18,"v":8},{"l":0.15,"e":0.18,"v":8},{"l":0.2,"e":0.18,"v":100},{"l":0.25,"e":0.18,"v":100},{"l":0.3,"e":0.18,"v":100},{"l":0.35,"e":0.18,"v":8},{"l":0.4,"e":0.18,"v":100},{"l":0.45,"e":0.18,"v":100},{"l":0.5,"e":0.18,"v":100},{"l":0.55,"e":0.18,"v":100},{"l":0.6,"e":0.18,"v":100},{"l":0.65,"e":0.18,"v":8},{"l":0.7,"e":0.18,"v":50},{"l":0.75,"e":0.18,"v":8},{"l":0.8,"e":0.18,"v":50},{"l":0.85,"e":0.18,"v":100},{"l":0.9,"e":0.18,"v":100},{"l":0.95,"e":0.18,"v":100},{"l":1,"e":0.18,"v":100},
{"l":0,"e":0.13,"v":8},{"l":0.05,"e":0.13,"v":100},{"l":0.1,"e":0.13,"v":100},{"l":0.15,"e":0.13,"v":100},{"l":0.2,"e":0.13,"v":8},{"l":0.25,"e":0.13,"v":8},{"l":0.3,"e":0.13,"v":8},{"l":0.35,"e":0.13,"v":100},{"l":0.4,"e":0.13,"v":100},{"l":0.45,"e":0.13,"v":100},{"l":0.5,"e":0.13,"v":100},{"l":0.55,"e":0.13,"v":100},{"l":0.6,"e":0.13,"v":8},{"l":0.65,"e":0.13,"v":8},{"l":0.7,"e":0.13,"v":100},{"l":0.75,"e":0.13,"v":8},{"l":0.8,"e":0.13,"v":100},{"l":0.85,"e":0.13,"v":100},{"l":0.9,"e":0.13,"v":100},{"l":0.95,"e":0.13,"v":100},{"l":1,"e":0.13,"v":100}],
"dots":[
{"l":0,"e":4.89},{"l":0.1,"e":4.89},{"l":0.2,"e":4.89},{"l":0.3,"e":4.89},{"l":0.4,"e":4.89},{"l":0.5,"e":4.89},{"l":0.6,"e":4.89},{"l":0.7,"e":4.89},{"l":0.8,"e":4.89},{"l":0.9,"e":4.89},{"l":1,"e":4.89},
{"l":0,"e":4.765},{"l":0.1,"e":4.765},{"l":0.2,"e":4.765},{"l":0.3,"e":4.765},{"l":0.4,"e":4.765},{"l":0.5,"e":4.765},{"l":0.6,"e":4.765},{"l":0.7,"e":4.765},{"l":0.8,"e":4.765},{"l":0.9,"e":4.765},{"l":1,"e":4.765},
{"l":0,"e":4.64},{"l":0.1,"e":4.64},{"l":0.2,"e":4.64},{"l":0.3,"e":4.64},{"l":0.4,"e":4.64},{"l":0.5,"e":4.64},{"l":0.6,"e":4.64},{"l":0.7,"e":4.64},{"l":0.8,"e":4.64},{"l":0.9,"e":4.64},{"l":1,"e":4.64},
{"l":0,"e":4.515},{"l":0.1,"e":4.515},{"l":0.2,"e":4.515},{"l":0.3,"e":4.515},{"l":0.4,"e":4.515},{"l":0.5,"e":4.515},{"l":0.6,"e":4.515},{"l":0.7,"e":4.515},{"l":0.8,"e":4.515},{"l":0.9,"e":4.515},{"l":1,"e":4.515},
{"l":0,"e":4.39},{"l":0.1,"e":4.39},{"l":0.2,"e":4.39},{"l":0.3,"e":4.39},{"l":0.4,"e":4.39},{"l":0.5,"e":4.39},{"l":0.6,"e":4.39},{"l":0.7,"e":4.39},{"l":0.8,"e":4.39},{"l":0.9,"e":4.39},{"l":1,"e":4.39},
{"l":0,"e":4.265},{"l":0.1,"e":4.265},{"l":0.2,"e":4.265},{"l":0.3,"e":4.265},{"l":0.4,"e":4.265},{"l":0.5,"e":4.265},{"l":0.6,"e":4.265},{"l":0.7,"e":4.265},{"l":0.8,"e":4.265},{"l":0.9,"e":4.265},{"l":1,"e":4.265},
{"l":0,"e":4.14},{"l":0.1,"e":4.14},{"l":0.2,"e":4.14},{"l":0.3,"e":4.14},{"l":0.4,"e":4.14},{"l":0.5,"e":4.14},{"l":0.6,"e":4.14},{"l":0.7,"e":4.14},{"l":0.8,"e":4.14},{"l":0.9,"e":4.14},{"l":1,"e":4.14},
{"l":0,"e":4.015},{"l":0.1,"e":4.015},{"l":0.2,"e":4.015},{"l":0.3,"e":4.015},{"l":0.4,"e":4.015},{"l":0.5,"e":4.015},{"l":0.6,"e":4.015},{"l":0.7,"e":4.015},{"l":0.8,"e":4.015},{"l":0.9,"e":4.015},{"l":1,"e":4.015},
{"l":0,"e":3.89},{"l":0.1,"e":3.89},{"l":0.2,"e":3.89},{"l":0.3,"e":3.89},{"l":0.4,"e":3.89},{"l":0.5,"e":3.89},{"l":0.6,"e":3.89},{"l":0.7,"e":3.89},{"l":0.8,"e":3.89},{"l":0.9,"e":3.89},{"l":1,"e":3.89},
{"l":0,"e":3.765},{"l":0.1,"e":3.765},{"l":0.2,"e":3.765},{"l":0.3,"e":3.765},{"l":0.4,"e":3.765},{"l":0.5,"e":3.765},{"l":0.6,"e":3.765},{"l":0.7,"e":3.765},{"l":0.8,"e":3.765},{"l":0.9,"e":3.765},{"l":1,"e":3.765},
{"l":0,"e":3.64},{"l":0.1,"e":3.64},{"l":0.2,"e":3.64},{"l":0.3,"e":3.64},{"l":0.4,"e":3.64},{"l":0.5,"e":3.64},{"l":0.6,"e":3.64},{"l":0.7,"e":3.64},{"l":0.8,"e":3.64},{"l":0.9,"e":3.64},{"l":1,"e":3.64},
{"l":0,"e":3.515},{"l":0.1,"e":3.515},{"l":0.2,"e":3.515},{"l":0.3,"e":3.515},{"l":0.4,"e":3.515},{"l":0.5,"e":3.515},{"l":0.6,"e":3.515},{"l":0.7,"e":3.515},{"l":0.8,"e":3.515},{"l":0.9,"e":3.515},{"l":1,"e":3.515},
{"l":0,"e":3.39},{"l":0.1,"e":3.39},{"l":0.2,"e":3.39},{"l":0.3,"e":3.39},{"l":0.4,"e":3.39},{"l":0.5,"e":3.39},{"l":0.6,"e":3.39},{"l":0.7,"e":3.39},{"l":0.8,"e":3.39},{"l":0.9,"e":3.39},{"l":1,"e":3.39},
{"l":0,"e":3.265},{"l":0.1,"e":3.265},{"l":0.2,"e":3.265},{"l":0.3,"e":3.265},{"l":0.4,"e":3.265},{"l":0.5,"e":3.265},{"l":0.6,"e":3.265},{"l":0.7,"e":3.265},{"l":0.8,"e":3.265},{"l":0.9,"e":3.265},{"l":1,"e":3.265},
{"l":0,"e":3.14},{"l":0.1,"e":3.14},{"l":0.2,"e":3.14},{"l":0.3,"e":3.14},{"l":0.4,"e":3.14},{"l":0.5,"e":3.14},{"l":0.6,"e":3.14},{"l":0.7,"e":3.14},{"l":0.8,"e":3.14},{"l":0.9,"e":3.14},{"l":1,"e":3.14},
{"l":0,"e":3.015},{"l":0.1,"e":3.015},{"l":0.2,"e":3.015},{"l":0.3,"e":3.015},{"l":0.4,"e":3.015},{"l":0.5,"e":3.015},{"l":0.6,"e":3.015},{"l":0.7,"e":3.015},{"l":0.8,"e":3.015},{"l":0.9,"e":3.015},{"l":1,"e":3.015},
{"l":0,"e":2.89},{"l":0.1,"e":2.89},{"l":0.2,"e":2.89},{"l":0.3,"e":2.89},{"l":0.4,"e":2.89},{"l":0.5,"e":2.89},{"l":0.6,"e":2.89},{"l":0.7,"e":2.89},{"l":0.8,"e":2.89},{"l":0.9,"e":2.89},{"l":1,"e":2.89},
{"l":0,"e":2.765},{"l":0.1,"e":2.765},{"l":0.2,"e":2.765},{"l":0.3,"e":2.765},{"l":0.4,"e":2.765},{"l":0.5,"e":2.765},{"l":0.6,"e":2.765},{"l":0.7,"e":2.765},{"l":0.8,"e":2.765},{"l":0.9,"e":2.765},{"l":1,"e":2.765},
{"l":0,"e":2.64},{"l":0.1,"e":2.64},{"l":0.2,"e":2.64},{"l":0.3,"e":2.64},{"l":0.4,"e":2.64},{"l":0.5,"e":2.64},{"l":0.6,"e":2.64},{"l":0.7,"e":2.64},{"l":0.8,"e":2.64},{"l":0.9,"e":2.64},{"l":1,"e":2.64},
{"l":0,"e":2.515},{"l":0.1,"e":2.515},{"l":0.2,"e":2.515},{"l":0.3,"e":2.515},{"l":0.4,"e":2.515},{"l":0.5,"e":2.515},{"l":0.6,"e":2.515},{"l":0.7,"e":2.515},{"l":0.8,"e":2.515},{"l":0.9,"e":2.515},{"l":1,"e":2.515},
{"l":0,"e":2.39},{"l":0.1,"e":2.39},{"l":0.2,"e":2.39},{"l":0.3,"e":2.39},{"l":0.4,"e":2.39},{"l":0.5,"e":2.39},{"l":0.6,"e":2.39},{"l":0.7,"e":2.39},{"l":0.8,"e":2.39},{"l":0.9,"e":2.39},{"l":1,"e":2.39},
{"l":0,"e":2.265},{"l":0.1,"e":2.265},{"l":0.2,"e":2.265},{"l":0.3,"e":2.265},{"l":0.4,"e":2.265},{"l":0.5,"e":2.265},{"l":0.6,"e":2.265},{"l":0.7,"e":2.265},{"l":0.8,"e":2.265},{"l":0.9,"e":2.265},{"l":1,"e":2.265},
{"l":0,"e":2.14},{"l":0.1,"e":2.14},{"l":0.2,"e":2.14},{"l":0.3,"e":2.14},{"l":0.4,"e":2.14},{"l":0.5,"e":2.14},{"l":0.6,"e":2.14},{"l":0.7,"e":2.14},{"l":0.8,"e":2.14},{"l":0.9,"e":2.14},{"l":1,"e":2.14},
{"l":0,"e":2.015},{"l":0.1,"e":2.015},{"l":0.2,"e":2.015},{"l":0.3,"e":2.015},{"l":0.4,"e":2.015},{"l":0.5,"e":2.015},{"l":0.6,"e":2.015},{"l":0.7,"e":2.015},{"l":0.8,"e":2.015},{"l":0.9,"e":2.015},{"l":1,"e":2.015},
{"l":0,"e":1.89},{"l":0.1,"e":1.89},{"l":0.2,"e":1.89},{"l":0.3,"e":1.89},{"l":0.4,"e":1.89},{"l":0.5,"e":1.89},{"l":0.6,"e":1.89},{"l":0.7,"e":1.89},{"l":0.8,"e":1.89},{"l":0.9,"e":1.89},{"l":1,"e":1.89},
{"l":0,"e":1.765},{"l":0.1,"e":1.765},{"l":0.2,"e":1.765},{"l":0.3,"e":1.765},{"l":0.4,"e":1.765},{"l":0.5,"e":1.765},{"l":0.6,"e":1.765},{"l":0.7,"e":1.765},{"l":0.8,"e":1.765},{"l":0.9,"e":1.765},{"l":1,"e":1.765},
{"l":0,"e":1.64},{"l":0.1,"e":1.64},{"l":0.2,"e":1.64},{"l":0.3,"e":1.64},{"l":0.4,"e":1.64},{"l":0.5,"e":1.64},{"l":0.6,"e":1.64},{"l":0.7,"e":1.64},{"l":0.8,"e":1.64},{"l":0.9,"e":1.64},{"l":1,"e":1.64},
{"l":0,"e":1.515},{"l":0.1,"e":1.515},{"l":0.2,"e":1.515},{"l":0.3,"e":1.515},{"l":0.4,"e":1.515},{"l":0.5,"e":1.515},{"l":0.6,"e":1.515},{"l":0.7,"e":1.515},{"l":0.8,"e":1.515},{"l":0.9,"e":1.515},{"l":1,"e":1.515},
{"l":0,"e":1.39},{"l":0.1,"e":1.39},{"l":0.2,"e":1.39},{"l":0.3,"e":1.39},{"l":0.4,"e":1.39},{"l":0.5,"e":1.39},{"l":0.6,"e":1.39},{"l":0.7,"e":1.39},{"l":0.8,"e":1.39},{"l":0.9,"e":1.39},{"l":1,"e":1.39},
{"l":0,"e":1.265},{"l":0.1,"e":1.265},{"l":0.2,"e":1.265},{"l":0.3,"e":1.265},{"l":0.4,"e":1.265},{"l":0.5,"e":1.265},{"l":0.6,"e":1.265},{"l":0.7,"e":1.265},{"l":0.8,"e":1.265},{"l":0.9,"e":1.265},{"l":1,"e":1.265},
{"l":0,"e":1.14},{"l":0.1,"e":1.14},{"l":0.2,"e":1.14},{"l":0.3,"e":1.14},{"l":0.4,"e":1.14},{"l":0.5,"e":1.14},{"l":0.6,"e":1.14},{"l":0.7,"e":1.14},{"l":0.8,"e":1.14},{"l":0.9,"e":1.14},{"l":1,"e":1.14},
{"l":0,"e":1.015},{"l":0.1,"e":1.015},{"l":0.2,"e":1.015},{"l":0.3,"e":1.015},{"l":0.4,"e":1.015},{"l":0.5,"e":1.015},{"l":0.6,"e":1.015},{"l":0.7,"e":1.015},{"l":0.8,"e":1.015},{"l":0.9,"e":1.015},{"l":1,"e":1.015},
{"l":0,"e":0.89},{"l":0.1,"e":0.89},{"l":0.2,"e":0.89},{"l":0.3,"e":0.89},{"l":0.4,"e":0.89},{"l":0.5,"e":0.89},{"l":0.6,"e":0.89},{"l":0.7,"e":0.89},{"l":0.8,"e":0.89},{"l":0.9,"e":0.89},{"l":1,"e":0.89},
{"l":0,"e":0.765},{"l":0.1,"e":0.765},{"l":0.2,"e":0.765},{"l":0.3,"e":0.765},{"l":0.4,"e":0.765},{"l":0.5,"e":0.765},{"l":0.6,"e":0.765},{"l":0.7,"e":0.765},{"l":0.8,"e":0.765},{"l":0.9,"e":0.765},{"l":1,"e":0.765},
{"l":0,"e":0.64},{"l":0.1,"e":0.64},{"l":0.2,"e":0.64},{"l":0.3,"e":0.64},{"l":0.4,"e":0.64},{"l":0.5,"e":0.64},{"l":0.6,"e":0.64},{"l":0.7,"e":0.64},{"l":0.8,"e":0.64},{"l":0.9,"e":0.64},{"l":1,"e":0.64},
{"l":0,"e":0.515},{"l":0.1,"e":0.515},{"l":0.2,"e":0.515},{"l":0.3,"e":0.515},{"l":0.4,"e":0.515},{"l":0.5,"e":0.515},{"l":0.6,"e":0.515},{"l":0.7,"e":0.515},{"l":0.8,"e":0.515},{"l":0.9,"e":0.515},{"l":1,"e":0.515},
{"l":0,"e":0.39},{"l":0.1,"e":0.39},{"l":0.2,"e":0.39},{"l":0.3,"e":0.39},{"l":0.4,"e":0.39},{"l":0.5,"e":0.39},{"l":0.6,"e":0.39},{"l":0.7,"e":0.39},{"l":0.8,"e":0.39},{"l":0.9,"e":0.39},{"l":1,"e":0.39},
{"l":0,"e":0.265},{"l":0.1,"e":0.265},{"l":0.2,"e":0.265},{"l":0.3,"e":0.265},{"l":0.4,"e":0.265},{"l":0.5,"e":0.265},{"l":0.6,"e":0.265},{"l":0.7,"e":0.265},{"l":0.8,"e":0.265},{"l":0.9,"e":0.265},{"l":1,"e":0.265},
{"l":0,"e":0.14},{"l":0.1,"e":0.14},{"l":0.2,"e":0.14},{"l":0.3,"e":0.14},{"l":0.4,"e":0.14},{"l":0.5,"e":0.14},{"l":0.6,"e":0.14},{"l":0.7,"e":0.14},{"l":0.8,"e":0.14},{"l":0.9,"e":0.14},{"l":1,"e":0.14}]
},
"bounds":"flush","spacing":24,"vconcat":[
{"hconcat":[{"width":139,"height":10,"view":{"stroke":null},"data":{"values":[{"l":0,"e":0}]},"mark":{"type":"point","opacity":0},"encoding":{"x":{"field":"l","type":"quantitative","axis":null},"y":{"field":"e","type":"quantitative","axis":null}}},
{"width":557,"height":10,"data":{"name":"bar"},"mark":"rect","encoding":{"x":{"field":"a","type":"quantitative","scale":{"domain":[5,100],"nice":false},"axis":{"orient":"top","values":[10,20,30,40,50,60,70,80,90,100],"grid":true,"gridColor":"#444","ticks":false,"zindex":1,"labelFontSize":12,"labelPadding":2,"title":null}},"x2":{"field":"b"},"color":{"field":"v","type":"quantitative","legend":null,"scale":{"domain":[5,16.9,40.6,64.4,88.1,100],"range":["#00007f","#0000ff","#00ffff","#ffff00","#ff0000","#7f0000"]}}}}],"spacing":0,"bounds":"flush"},
{"bounds":"flush","spacing":881,"hconcat":[
{"bounds":"flush","spacing":43,"hconcat":[
{"width":396,"height":372,"encoding":{"x":{"field":"l","type":"quantitative","scale":{"domain":[0,1],"nice":false},"axis":{"values":[0,0.2,0.4,0.6,0.8,1],"format":"~g","title":"(1,0,l)","titleFont":"Liberation Serif","titleFontSize":18,"titlePadding":0}},"y":{"field":"e","type":"quantitative","scale":{"domain":[0.1,5],"nice":false},"axis":{"values":[0.5,1,1.5,2,2.5,3,3.5,4,4.5,5],"format":"~g","title":"Energy(meV)","titleFontSize":21,"titlePadding":5}}},"layer":[
{"data":{"name":"coarse"},"mark":{"type":"rect","width":20.5,"height":12,"clip":true},"encoding":{"color":{"field":"v","type":"quantitative","legend":null,"scale":{"domain":[5,16.9,40.6,64.4,88.1,100],"range":["#00007f","#0000ff","#00ffff","#ffff00","#ff0000","#7f0000"]}}}},
{"data":{"name":"fine"},"mark":{"type":"rect","width":20.5,"height":4.2,"clip":true},"encoding":{"color":{"field":"v","type":"quantitative","legend":null,"scale":{"domain":[5,16.9,40.6,64.4,88.1,100],"range":["#00007f","#0000ff","#00ffff","#ffff00","#ff0000","#7f0000"]}}}},
{"data":{"name":"dots"},"mark":{"type":"point","filled":true,"color":"black","size":3,"opacity":1},"encoding":{}},
{"data":{"values":[{"l":0.048,"e":4.79,"t":"(a)"},{"l":0.87,"e":4.79,"t":"data"}]},"mark":{"type":"text","color":"white","fontWeight":"bold","fontSize":20,"font":"Liberation Sans"},"encoding":{"text":{"field":"t"}}}]},
{"width":396,"height":372,"encoding":{"x":{"field":"l","type":"quantitative","scale":{"domain":[0,1],"nice":false},"axis":{"values":[0,0.2,0.4,0.6,0.8,1],"format":"~g","title":"(1,0,l)","titleFont":"Liberation Serif","titleFontSize":18,"titlePadding":0}},"y":{"field":"e","type":"quantitative","scale":{"domain":[0.1,5],"nice":false},"axis":{"values":[0.5,1,1.5,2,2.5,3,3.5,4,4.5,5],"format":"~g","title":null}}},"layer":[
{"data":{"name":"theory"},"mark":"rect","encoding":{"x2":{"field":"r"},"y2":{"field":"f"},"color":{"field":"v","type":"quantitative","legend":null,"scale":{"domain":[5,16.9,40.6,64.4,88.1,100],"range":["#00007f","#0000ff","#00ffff","#ffff00","#ff0000","#7f0000"]}}}},
{"data":{"values":[{"l":0.05,"e":4.79,"t":"(b)"},{"l":0.876,"e":4.79,"t":"theory"}]},"mark":{"type":"text","color":"white","fontWeight":"bold","fontSize":20,"font":"Liberation Sans"},"encoding":{"text":{"field":"t"}}}]}]},
{"width":385,"height":372,"title":{"text":"Spin wave modes","fontSize":19,"fontWeight":"bold","font":"Liberation Sans","dx":13,"offset":4},"resolve":{"scale":{"x":"independent","y":"independent"},"axis":{"x":"independent","y":"independent"}},"layer":[
{"data":{"name":"blue"},"mark":{"type":"line","color":"#0000e0","strokeWidth":3,"interpolate":"monotone"},"encoding":{"x":{"field":"l","type":"quantitative","scale":{"domain":[0,1],"nice":false},"axis":{"orient":"bottom","values":[0,0.2,0.4,0.6,0.8,1],"format":"~g","title":"(1,0,l)","titleFont":"Liberation Serif","titleFontSize":18,"titlePadding":0}},"y":{"field":"e","type":"quantitative","scale":{"domain":[0.1,5],"nice":false},"axis":{"orient":"left","values":[0.5,1,1.5,2,2.5,3,3.5,4,4.5,5],"format":"~g","title":null}},"detail":{"field":"m"}}},
{"data":{"name":"red"},"mark":{"type":"line","color":"#e03000","strokeWidth":3,"interpolate":"monotone"},"encoding":{"x":{"field":"l","type":"quantitative","scale":{"domain":[0,1],"nice":false},"axis":null},"y":{"field":"e","type":"quantitative","scale":{"domain":[0.1,5],"nice":false},"axis":null},"detail":{"field":"m"}}},
{"data":{"name":"low"},"mark":{"type":"line","color":"#d03070","strokeWidth":2.5,"interpolate":"monotone"},"encoding":{"x":{"field":"l","type":"quantitative","scale":{"domain":[0,1],"nice":false},"axis":null},"y":{"field":"e","type":"quantitative","scale":{"domain":[0.1,5],"nice":false},"axis":null}}},
{"data":{"values":[{"l":0.052,"e":4.79,"t":"(c)"}]},"mark":{"type":"text","color":"black","fontWeight":"bold","fontSize":20,"font":"Liberation Sans"},"encoding":{"text":{"field":"t"},"x":{"field":"l","type":"quantitative","scale":{"domain":[0,1],"nice":false},"axis":{"orient":"top","values":[0,0.2,0.4,0.6,0.8,1],"labels":false,"title":null}},"y":{"field":"e","type":"quantitative","scale":{"domain":[0.1,5],"nice":false},"axis":{"orient":"right","values":[0.5,1,1.5,2,2.5,3,3.5,4,4.5,5],"labels":false,"title":null}}}},
{"data":{"values":[{"l":0.4,"r":0.9,"e":3.2,"f":3.3}]},"mark":{"type":"rect","fill":"white","stroke":"#888","strokeWidth":1},"encoding":{"x":{"field":"l","type":"quantitative","scale":{"domain":[0.4,0.9],"nice":false,"range":[154,347]},"axis":{"orient":"bottom","offset":-265,"zindex":1,"values":[0.4,0.5,0.6,0.7,0.8,0.9],"format":"~g","title":null,"tickSize":-2,"labelFontSize":12,"labelFontWeight":"bold","labelPadding":5}},"x2":{"field":"r"},"y":{"field":"e","type":"quantitative","scale":{"domain":[3.2,3.3],"nice":false,"range":[107,9]},"axis":{"orient":"left","offset":-154,"zindex":1,"values":[3.2,3.25,3.3],"format":"~g","title":null,"tickSize":-2,"labelFontSize":12,"labelFontWeight":"bold","labelPadding":4}},"y2":{"field":"f"}}},
{"data":{"name":"blue"},"transform":[{"filter":"datum.l>=0.4&&datum.l<=0.9"}],"mark":{"type":"line","color":"#0000e0","strokeWidth":2,"interpolate":"monotone"},"encoding":{"x":{"field":"l","type":"quantitative","scale":{"domain":[0.4,0.9],"nice":false,"range":[154,347]},"axis":null},"y":{"field":"e","type":"quantitative","scale":{"domain":[3.2,3.3],"nice":false,"range":[107,9]},"axis":null},"detail":{"field":"m"}}},
{"data":{"values":[{"l":0.4,"r":0.9,"e":0.3,"f":0.5}]},"mark":{"type":"rect","fill":"white","stroke":"#888","strokeWidth":1},"encoding":{"x":{"field":"l","type":"quantitative","scale":{"domain":[0.4,0.9],"nice":false,"range":[153,347]},"axis":{"orient":"bottom","offset":-73,"zindex":1,"values":[0.4,0.6,0.8],"format":"~g","title":null,"tickSize":-2,"labelFontSize":17,"labelPadding":5}},"x2":{"field":"r"},"y":{"field":"e","type":"quantitative","scale":{"domain":[0.3,0.5],"nice":false,"range":[299,194]},"axis":{"orient":"left","offset":-153,"zindex":1,"values":[0.3,0.4,0.5],"format":"~g","title":null,"tickSize":-2,"labelFontSize":17,"labelPadding":4}},"y2":{"field":"f"}}},
{"data":{"name":"red"},"transform":[{"filter":"datum.l>=0.4&&datum.l<=0.9"}],"mark":{"type":"line","color":"#e03000","strokeWidth":1.8,"interpolate":"monotone"},"encoding":{"x":{"field":"l","type":"quantitative","scale":{"domain":[0.4,0.9],"nice":false,"range":[153,347]},"axis":null},"y":{"field":"e","type":"quantitative","scale":{"domain":[0.3,0.5],"nice":false,"range":[299,194]},"axis":null},"detail":{"field":"m"}}},
{"data":{"name":"low"},"transform":[{"filter":"datum.l>=0.4&&datum.l<=0.9"}],"mark":{"type":"line","color":"#d03070","strokeWidth":1.8,"interpolate":"monotone"},"encoding":{"x":{"field":"l","type":"quantitative","scale":{"domain":[0.4,0.9],"nice":false,"range":[153,347]},"axis":null},"y":{"field":"e","type":"quantitative","scale":{"domain":[0.3,0.5],"nice":false,"range":[299,194]},"axis":null}}}]}]}]}
